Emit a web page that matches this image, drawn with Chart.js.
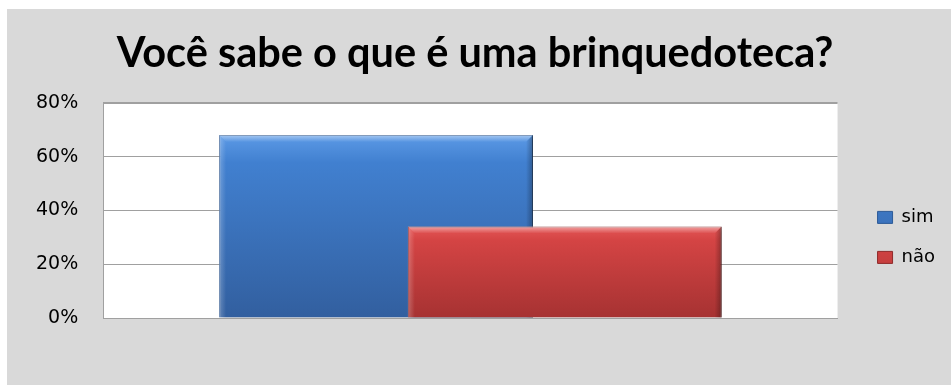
<!DOCTYPE html>
<html>
<head>
<meta charset="utf-8">
<script src="https://cdn.jsdelivr.net/npm/chart.js@4/dist/chart.umd.min.js"></script>
<style>
  body { margin: 0; background: #fff; }
  #box { position: absolute; left: 7px; top: 9px; width: 944px; height: 376px; background: #d9d9d9; }
</style>
</head>
<body>
<div id="box"><canvas id="myChart"></canvas></div>
<script>
// respostas da pesquisa (em %)
const categories = [''];
const seriesNames = ['sim', 'não'];
const simValues = [68];
const naoValues = [34];
const yTicks = [0, 20, 40, 60, 80];

// cores: topo claro -> base escura
const blueStops = ['#5c9ae6', '#4180d0', '#325f9f'];
const redStops = ['#e45656', '#d44444', '#a63232'];

Chart.defaults.font.family = 'DejaVu Sans';
Chart.defaults.color = '#000';

function barGradient(stops) {
    return (c) => {
        const chart = c.chart;
        if (!chart.chartArea || c.dataIndex === undefined) return stops[1];
        const y = chart.scales.y;
        const top = y.getPixelForValue(c.dataset.data[c.dataIndex]);
        const bottom = y.getPixelForValue(0);
        const g = chart.ctx.createLinearGradient(0, top, 0, bottom);
        g.addColorStop(0, stops[0]);
        g.addColorStop(0.15, stops[1]);
        g.addColorStop(1, stops[2]);
        return g;
    };
}

// bevel estilo office por cima de cada barra
function bevel(ctx, meta) {
    meta.data.forEach(bar => {
        const {x, y, base, width} = bar.getProps(['x', 'y', 'base', 'width'], true);
        const l = x - width / 2, r = x + width / 2, b = 7;
        ctx.save();
        let g = ctx.createLinearGradient(0, y, 0, y + b);
        g.addColorStop(0, 'rgba(255,255,255,0.45)');
        g.addColorStop(1, 'rgba(255,255,255,0)');
        ctx.fillStyle = g;
        ctx.beginPath();
        ctx.moveTo(l, y); ctx.lineTo(r, y); ctx.lineTo(r - b, y + b); ctx.lineTo(l + b, y + b);
        ctx.fill();
        g = ctx.createLinearGradient(l, 0, l + b, 0);
        g.addColorStop(0, 'rgba(255,255,255,0.25)');
        g.addColorStop(1, 'rgba(255,255,255,0)');
        ctx.fillStyle = g;
        ctx.beginPath();
        ctx.moveTo(l, y); ctx.lineTo(l + b, y + b); ctx.lineTo(l + b, base); ctx.lineTo(l, base);
        ctx.fill();
        g = ctx.createLinearGradient(r - b, 0, r, 0);
        g.addColorStop(0, 'rgba(0,0,0,0)');
        g.addColorStop(1, 'rgba(0,0,0,0.3)');
        ctx.fillStyle = g;
        ctx.beginPath();
        ctx.moveTo(r, y); ctx.lineTo(r - b, y + b); ctx.lineTo(r - b, base); ctx.lineTo(r, base);
        ctx.fill();
        ctx.restore();
    });
}

function shadowOn(ctx) {
    ctx.save();
    ctx.shadowColor = 'rgba(0,0,0,0.35)';
    ctx.shadowBlur = 5;
    ctx.shadowOffsetX = 2;
    ctx.shadowOffsetY = 1;
}

let drawingTop = false;
const officeBars = {
    id: 'officeBars',
    afterLayout(chart) {
        // legenda um pouco afastada do grafico e mais para baixo
        const lg = chart.legend, a = chart.chartArea;
        const w = lg.width;
        lg.left = a.right + 18;
        lg.right = lg.left + w;
        lg.top = a.top + 27;
        lg.bottom = a.bottom + 27;
        // titulo levemente para a direita
        chart.titleBlock.left += 6;
        chart.titleBlock.right += 6;
    },
    beforeDraw(chart) {
        const {ctx, chartArea: a} = chart;
        ctx.save();
        ctx.fillStyle = '#fff';
        ctx.fillRect(a.left, a.top, a.right - a.left, a.bottom - a.top);
        ctx.restore();
    },
    beforeDatasetDraw(chart, args) {
        // o "não" fica na frente, desenha depois
        if (args.index === 1 && !drawingTop) return false;
        shadowOn(chart.ctx);
    },
    afterDatasetDraw(chart, args) {
        chart.ctx.restore();
        bevel(chart.ctx, args.meta);
    },
    afterDatasetsDraw(chart) {
        drawingTop = true;
        const meta = chart.getDatasetMeta(1);
        shadowOn(chart.ctx);
        meta.controller.draw();
        chart.ctx.restore();
        bevel(chart.ctx, meta);
        drawingTop = false;
    }
};

const ctx = document.getElementById('myChart').getContext('2d');

const myChart = new Chart(ctx, {
    type: 'bar',
    data: {
        labels: categories,
        datasets: [{
            label: seriesNames[0],
            data: simValues,
            backgroundColor: barGradient(blueStops),
            borderColor: '#2d5b98',
            borderWidth: 1
        }, {
            label: seriesNames[1],
            data: naoValues,
            backgroundColor: barGradient(redStops),
            borderColor: '#8f2a2a',
            borderWidth: 1
        }]
    },
    options: {
        responsive: true,
        maintainAspectRatio: false,
        animation: false,
        categoryPercentage: 0.514,
        barPercentage: 1.663,
        layout: { padding: { left: 4, right: 24, bottom: 59, top: 0 } },
        plugins: {
            title: {
                display: true,
                text: 'Você sabe o que é uma brinquedoteca?',
                color: '#000',
                font: { family: 'Lato', size: 41.5, weight: 'bold' },
                padding: { top: 20, bottom: 24 }
            },
            legend: {
                position: 'right',
                labels: {
                    boxWidth: 15,
                    boxHeight: 12,
                    padding: 22,
                    font: { size: 18 }
                }
            },
            tooltip: { enabled: false }
        },
        scales: {
            x: {
                grid: { display: false },
                border: { color: '#a0a0a0' },
                ticks: { display: false }
            },
            y: {
                min: yTicks[0],
                max: yTicks[yTicks.length - 1],
                afterBuildTicks: (axis) => { axis.ticks = yTicks.map(v => ({ value: v })); },
                grid: {
                    color: '#a0a0a0',
                    drawTicks: false,
                    lineWidth: (c) => c.tick && c.tick.value === yTicks[yTicks.length - 1] ? 2 : 1
                },
                border: { color: '#a0a0a0' },
                ticks: {
                    padding: 25,
                    font: { size: 19 },
                    color: '#000',
                    callback: (v) => v + '%'
                }
            }
        }
    },
    plugins: [officeBars]
});
</script>
</body>
</html>
